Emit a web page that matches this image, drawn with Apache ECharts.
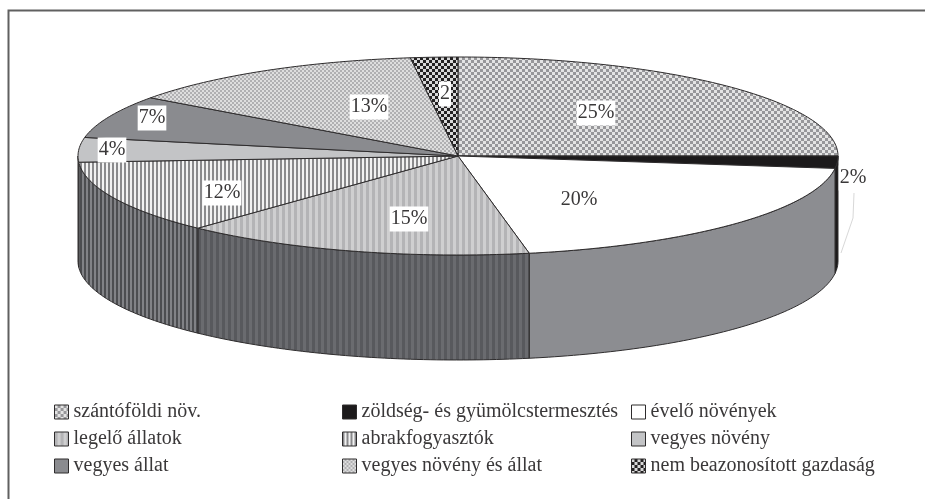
<!DOCTYPE html>
<html>
<head>
<meta charset="utf-8">
<style>
  html, body { margin: 0; padding: 0; background: #fff; }
  #chart { width: 925px; height: 499px; }
</style>
<script src="https://cdn.jsdelivr.net/npm/echarts@6/dist/echarts.min.js"></script>
</head>
<body>
<div id="chart"></div>
<script>
// slices, clockwise from 12 o'clock
var categories = [
  "szántóföldi növ.",
  "zöldség- és gyümölcstermesztés",
  "évelő növények",
  "legelő állatok",
  "abrakfogyasztók",
  "vegyes növény",
  "vegyes állat",
  "vegyes növény és állat",
  "nem beazonosított gazdaság"
];
var shares = [25, 2, 20, 15, 12, 4, 7, 13, 2];
var valueLabels = ["25%", "2%", "20%", "15%", "12%", "4%", "7%", "13%", "2"];

// legend columns hold indexes into categories
var legendColumns = [[0, 3, 6], [1, 4, 7], [2, 5, 8]];
var legendLeft = [54, 342, 631];

// ellipse of the disc
var CX = 458, CY = 156, RX = 380, RY = 99, DEPTH = 105;

// where each value label sits
var labelAt = [
  [596, 113], [853, 178], [579, 200], [409, 219], [222, 193],
  [112, 150], [152, 118], [369, 107], [445, 94]
];

function tile(w, h, paint) {
  var c = document.createElement("canvas");
  c.width = w;
  c.height = h;
  paint(c.getContext("2d"));
  return { image: c, repeat: "repeat" };
}

function stripes(w, base, line, lineW) {
  return tile(w, 4, function (g) {
    g.fillStyle = base;
    g.fillRect(0, 0, w, 4);
    g.fillStyle = line;
    g.fillRect(0, 0, lineW, 4);
  });
}

function checker(size, dark, light) {
  return tile(size * 2, size * 2, function (g) {
    g.fillStyle = dark;
    g.fillRect(0, 0, size * 2, size * 2);
    g.fillStyle = light;
    g.fillRect(0, 0, size, size);
    g.fillRect(size, size, size, size);
  });
}

var topFill = [
  checker(3, "#97979a", "#e4e4e4"),
  "#1c1a1b",
  "#ffffff",
  stripes(6, "#cfcfd0", "#b4b4b6", 3),
  stripes(4, "#f2f2f2", "#8a8a8c", 2),
  "#c3c4c6",
  "#8a8b8f",
  checker(2, "#b0b0b2", "#dedede"),
  checker(3, "#232122", "#d8d8d8")
];
var wallFill = [
  null,
  "#1c1a1b",
  "#8c8d91",
  stripes(6, "#6a6b6f", "#58595d", 3),
  stripes(4, "#818286", "#4c4d50", 2),
  "#8c8d91",
  null, null, null
];

var starts = [];
shares.reduce(function (sum, v, i) {
  starts[i] = sum;
  return sum + v;
}, 0);

function onRim(deg, dy) {
  var a = deg * Math.PI / 180;
  return [CX + RX * Math.sin(a), CY - RY * Math.cos(a) + dy];
}

function arc(from, to, dy) {
  var pts = [];
  var n = Math.max(2, Math.ceil(to - from));
  for (var i = 0; i <= n; i++) {
    pts.push(onRim(from + (to - from) * i / n, dy));
  }
  return pts;
}

function renderSlice(params, api) {
  var i = params.seriesIndex;
  var from = starts[i] * 3.6;
  var to = (starts[i] + api.value(0)) * 3.6;
  var children = [];

  // side wall, only the part facing the viewer
  var wFrom = Math.max(from, 90);
  var wTo = Math.min(to, 270);
  if (wTo > wFrom) {
    children.push({
      type: "polygon",
      z2: 1,
      shape: { points: arc(wFrom, wTo, 0).concat(arc(wFrom, wTo, DEPTH).reverse()) },
      style: { fill: wallFill[i], stroke: "#2e2c2d", lineWidth: 1 }
    });
  }
  children.push({
    type: "polygon",
    z2: 2,
    shape: { points: [[CX, CY]].concat(arc(from, to, 0)) },
    style: { fill: topFill[i], stroke: "#2e2c2d", lineWidth: 1 }
  });
  children.push({
    type: "text",
    z2: 3,
    x: labelAt[i][0],
    y: labelAt[i][1],
    style: {
      text: valueLabels[i],
      fill: "#3a3839",
      font: "20px 'Liberation Serif'",
      align: "center",
      verticalAlign: "middle",
      backgroundColor: "#fff",
      padding: [3, 1, 2, 1]
    }
  });
  return { type: "group", children: children };
}

var seriesList = categories.map(function (name, i) {
  return {
    name: name,
    type: "custom",
    coordinateSystem: "none",
    renderItem: renderSlice,
    data: [[shares[i]]],
    animation: false,
    silent: true
  };
});

var legends = legendColumns.map(function (col, c) {
  return {
    orient: "vertical",
    left: legendLeft[c] - 5,
    top: 397,
    itemWidth: 14,
    itemHeight: 14,
    itemGap: 7,
    selectedMode: false,
    textStyle: { fontFamily: "Liberation Serif", fontSize: 20, color: "#3a3839" },
    data: col.map(function (k) {
      return {
        name: categories[k],
        icon: "rect",
        itemStyle: { color: topFill[k], borderColor: "#2e2c2d", borderWidth: 1 }
      };
    })
  };
});

var chart = echarts.init(document.getElementById("chart"), null, { renderer: "canvas" });
chart.setOption({
  backgroundColor: "#ffffff",
  animation: false,
  legend: legends,
  graphic: [
    {
      // the frame is cut off at the right and bottom of the picture
      type: "polyline",
      silent: true,
      z: -1,
      shape: { points: [[8.5, 499], [8.5, 10.5], [925, 10.5]] },
      style: { fill: "none", stroke: "#606060", lineWidth: 2 }
    },
    {
      // leader of the outer 2% label
      type: "polyline",
      silent: true,
      z: -1,
      shape: { points: [[854, 193], [853, 218], [841, 253]] },
      style: { fill: "none", stroke: "#d8d8d8", lineWidth: 1 }
    }
  ],
  series: seriesList
});
</script>
</body>
</html>
